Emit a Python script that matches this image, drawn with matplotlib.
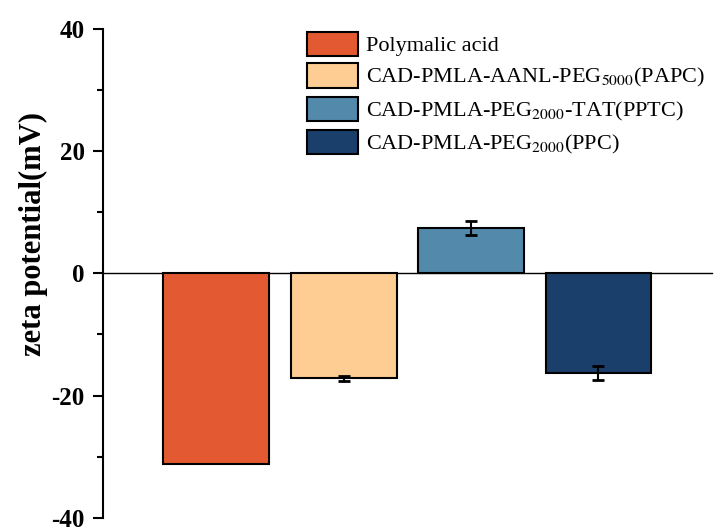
import matplotlib
matplotlib.use("Agg")
import matplotlib.pyplot as plt
from matplotlib.ticker import MultipleLocator

plt.rcParams["font.family"] = ["Liberation Serif", "DejaVu Serif"]
plt.rcParams["mathtext.fontset"] = "stix"
plt.rcParams["axes.unicode_minus"] = False

# data
labels = [
    "Polymalic acid",
    r"CAD-PMLA-AANL-PEG$_{5000}$(PAPC)",
    r"CAD-PMLA-PEG$_{2000}$-TAT(PPTC)",
    r"CAD-PMLA-PEG$_{2000}$(PPC)",
]
zeta = [-31.2, -17.2, 7.4, -16.3]
zeta_err = [0.0, 0.4, 1.15, 1.1]
colors = ["#E35A32", "#FDCD94", "#5389AB", "#1A3F6A"]
positions = [1, 2, 3, 4]

fig = plt.figure(figsize=(7.14, 5.32), dpi=100)
ax = fig.add_axes([0.144, 0.027, 0.853, 0.918])

handles = []
for x, v, e, c, lab in zip(positions, zeta, zeta_err, colors, labels):
    b = ax.bar(x, v, width=0.83, color=c, edgecolor="black", linewidth=1.5, label=lab)
    handles.append(b)
    if e > 0:
        ax.errorbar(x, v, yerr=e, fmt="none", ecolor="black", elinewidth=1.5,
                    capsize=4, capthick=2)

ax.set_xlim(0.11, 4.89)
ax.set_ylim(-40, 40)
ax.yaxis.set_major_locator(MultipleLocator(20))
ax.yaxis.set_minor_locator(MultipleLocator(10))

ax.spines["top"].set_visible(False)
ax.spines["right"].set_visible(False)
ax.spines["left"].set_linewidth(1.5)
ax.spines["bottom"].set_position(("data", 0))
ax.spines["bottom"].set_linewidth(1.0)
ax.spines["bottom"].set_zorder(0)
ax.set_xticks([])

ax.tick_params(axis="y", which="major", direction="out", length=7, width=1.5, pad=6,
               labelsize=18)
ax.tick_params(axis="y", which="minor", direction="out", length=4, width=1.5)
for t in ax.get_yticklabels():
    t.set_fontweight("bold")

ax.set_ylabel("zeta potential(mV)", fontsize=22, fontweight="bold")
ax.yaxis.set_label_coords(-0.09, 0.58)

ax.legend(handles=handles, loc="upper left", bbox_to_anchor=(0.335, 0.995),
          frameon=False, fontsize=16, handlelength=2.3, handleheight=1.3,
          handletextpad=0.35, labelspacing=0.32, borderpad=0, borderaxespad=0)

fig.savefig("out.png", dpi=100)
